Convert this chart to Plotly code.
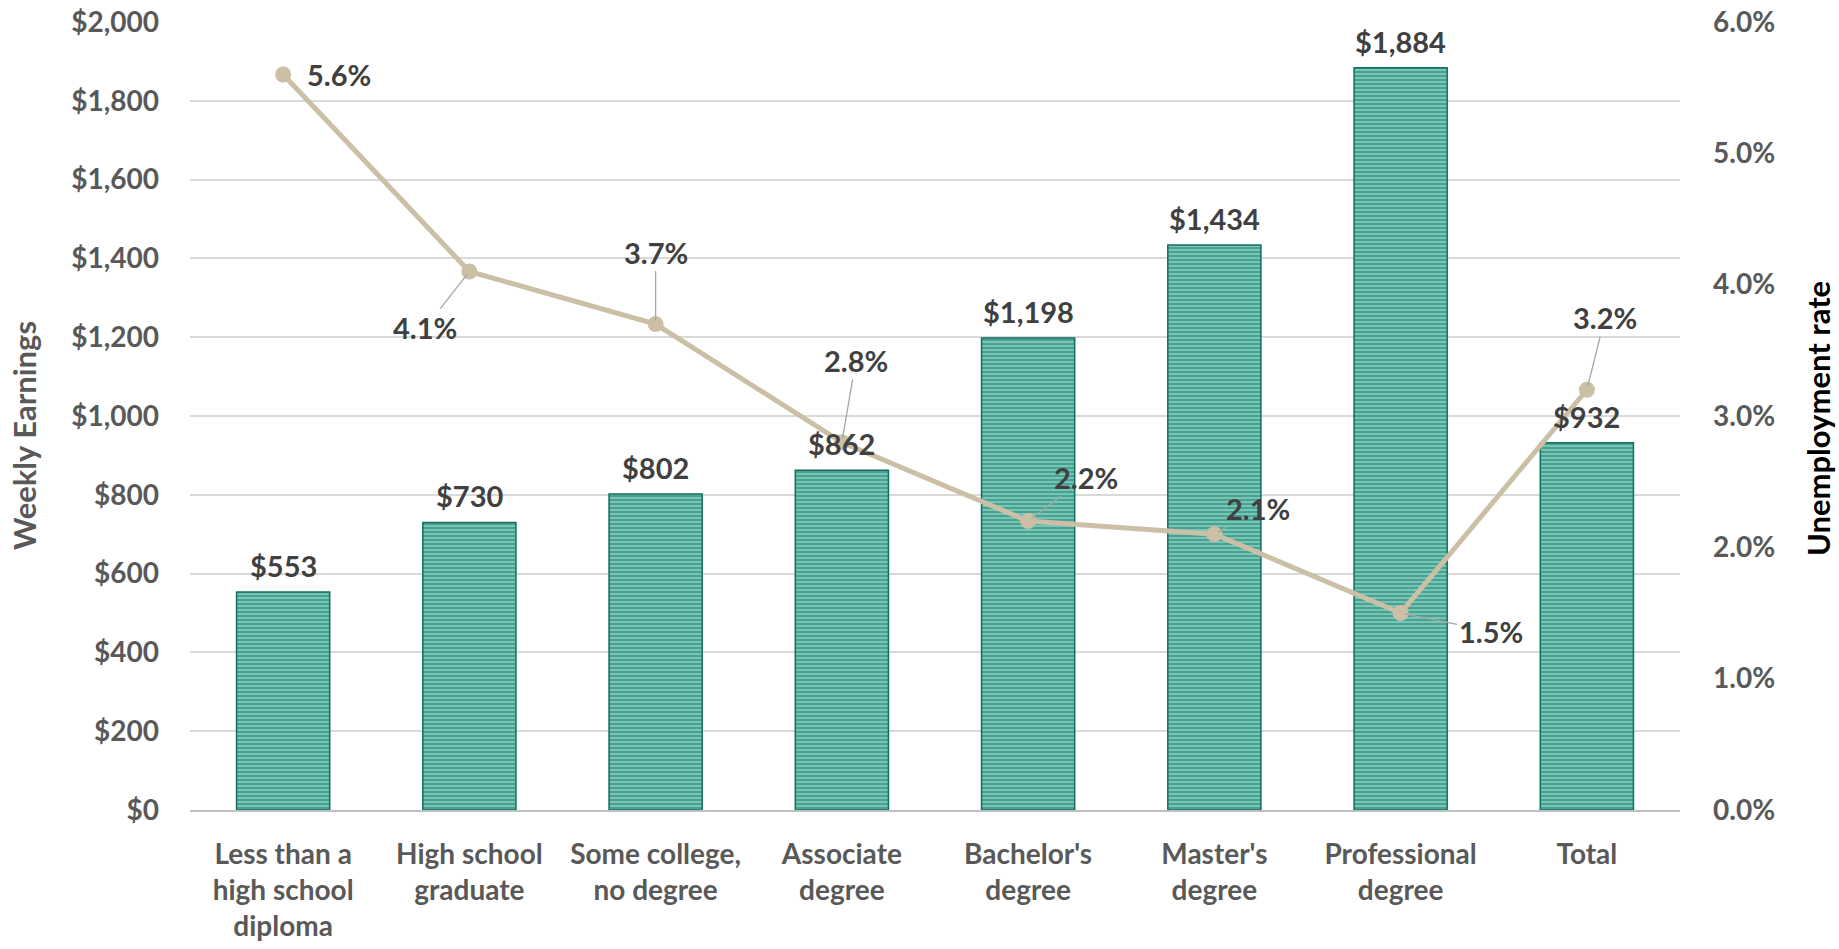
import plotly.graph_objects as go

categories = ["Less than a<br>high school<br>diploma", "High school<br>graduate",
              "Some college,<br>no degree", "Associate<br>degree", "Bachelor's<br>degree",
              "Master's<br>degree", "Professional<br>degree", "Total"]
weekly_earnings = [553, 730, 802, 862, 1198, 1434, 1884, 932]
unemployment_rate = [5.6, 4.1, 3.7, 2.8, 2.2, 2.1, 1.5, 3.2]

# label offsets (pixels) for the unemployment labels: (ax, ay, leader?)
rate_label_offsets = [(22, 0, False), (-44, 56, True), (0, -72, True), (14, -82, True),
                      (58, -44, True), (44, -26, True), (90, 18, True), (18, -72, True)]

FONT = "Lato"
W, H = 1839, 949
L, R, T, B = 190, 159, 22, 139

fig = go.Figure()
fig.add_trace(go.Bar(
    x=categories, y=weekly_earnings, yaxis="y",
    marker=dict(color="#98efdc",
                line=dict(color="#0f6f5f", width=1.5),
                pattern=dict(shape="-", fgcolor="#035044", bgcolor="#98efdc",
                             size=4, solidity=0.75, fillmode="overlay")),
    hoverinfo="skip", showlegend=False,
))
fig.add_trace(go.Scatter(
    x=categories, y=unemployment_rate, yaxis="y2", mode="lines+markers",
    line=dict(color="#cbbfa6", width=5),
    marker=dict(color="#cbbfa6", size=16),
    hoverinfo="skip", showlegend=False,
))

LBL = dict(family=FONT, size=29, color="#404040", weight="bold")
annotations = []
for c, v in zip(categories, weekly_earnings):
    annotations.append(dict(
        x=c, y=v, xref="x", yref="y", text=f"${v:,}", showarrow=False,
        yanchor="bottom", yshift=7, font=LBL))

for c, v, (ax, ay, lead) in zip(categories, unemployment_rate, rate_label_offsets):
    if lead:
        annotations.append(dict(
            x=c, y=v, xref="x", yref="y2", text=f"{v:.1f}%", showarrow=True,
            ax=ax, ay=ay, arrowhead=0, arrowwidth=1.3, arrowcolor="#a6a6a6", standoff=4,
            font=LBL))
    else:
        annotations.append(dict(
            x=c, y=v, xref="x", yref="y2", text=f"{v:.1f}%", showarrow=False,
            xanchor="left", xshift=ax, yshift=ay, font=LBL))

annotations.append(dict(
    x=0, y=0.5, xref="paper", yref="paper", xanchor="center", yanchor="middle",
    xshift=24 - L, yshift=-20,
    text="Weekly Earnings", textangle=-90, showarrow=False,
    font=dict(family=FONT, size=31, color="#595959", weight="bold")))
annotations.append(dict(
    x=1, y=0.5, xref="paper", yref="paper", xanchor="center", yanchor="middle",
    xshift=1818 - (W - R), yshift=-3,
    text="Unemployment rate", textangle=-90, showarrow=False,
    font=dict(family=FONT, size=31, color="#000000", weight="bold")))

TICK = dict(family=FONT, size=28, color="#595959", weight="bold")
fig.update_layout(
    width=W, height=H,
    margin=dict(l=L, r=R, t=T, b=B, autoexpand=False),
    paper_bgcolor="white", plot_bgcolor="white",
    bargap=0.5,
    font=dict(family=FONT),
    xaxis=dict(showgrid=False, showline=True, linecolor="#bfbfbf", linewidth=2,
               ticks="", ticklabelstandoff=18, tickfont=TICK, automargin=False),
    yaxis=dict(range=[0, 2000], dtick=200, tickprefix="$", tickformat=",d",
               showgrid=True, gridcolor="#d9d9d9", gridwidth=1.5, zeroline=False,
               showline=False, ticks="", ticklabelstandoff=30, tickfont=TICK,
               automargin=False, ticklabeloverflow="allow"),
    yaxis2=dict(range=[0, 6], dtick=1, tickformat=".1f", ticksuffix="%",
                overlaying="y", side="right", showgrid=False, zeroline=False,
                showline=False, ticks="", ticklabelstandoff=32, tickfont=TICK,
                automargin=False, ticklabeloverflow="allow"),
    annotations=annotations,
)

fig.write_html("out.html", config={"displayModeBar": False},
               post_script="document.body.style.margin='0';document.body.style.padding='0';")
